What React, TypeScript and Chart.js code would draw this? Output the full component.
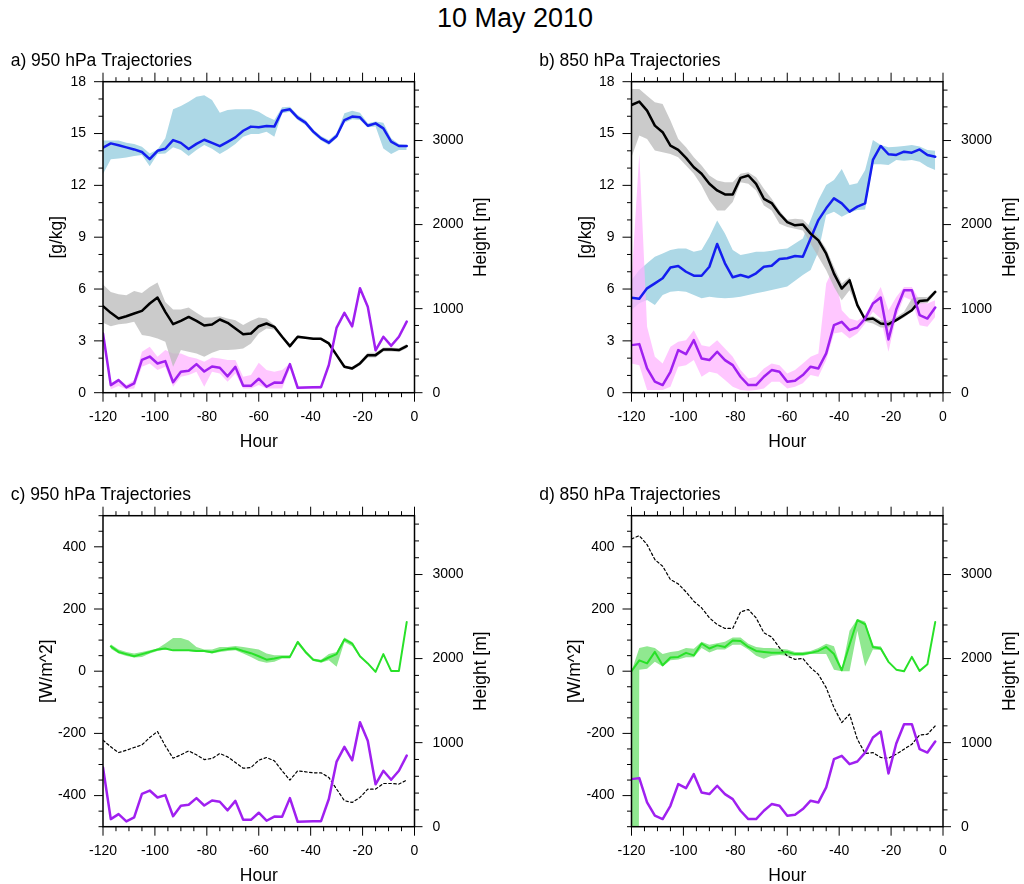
import React, { useEffect, useRef } from "react";
import { Chart, registerables } from "chart.js";

Chart.register(...registerables);

const FONT = '"Liberation Sans", Arial, Helvetica, sans-serif';

// Hours before arrival, 3-hourly trajectory output
const HOURS = [
  -120, -117, -114, -111, -108, -105, -102, -99, -96, -93,
  -90, -87, -84, -81, -78, -75, -72, -69, -66, -63,
  -60, -57, -54, -51, -48, -45, -42, -39, -36, -33,
  -30, -27, -24, -21, -18, -15, -12, -9, -6, -3,
];

// Axis tick labels
const HOUR_TICKS = [-120, -100, -80, -60, -40, -20, 0];
const Q_TICKS = [0, 3, 6, 9, 12, 15, 18];
const FLUX_TICKS = [-400, -200, 0, 200, 400];
const HEIGHT_TICKS = [0, 1000, 2000, 3000];

// ---- 950 hPa trajectories ----
// specific humidity [g/kg]: mean, spread minimum, spread maximum
const Q950 = [14.18, 14.43, 14.32, 14.2, 14.08, 13.93, 13.52, 14.0, 14.12, 14.62, 14.46, 14.1, 14.4, 14.64, 14.46, 14.27, 14.52, 14.78, 15.16, 15.4, 15.36, 15.43, 15.4, 16.32, 16.4, 15.92, 15.63, 15.11, 14.72, 14.47, 14.86, 15.78, 15.98, 15.94, 15.45, 15.59, 15.3, 14.53, 14.28, 14.28];
const Q950_LO = [12.66, 13.51, 13.56, 13.62, 13.7, 13.76, 13.1, 13.81, 13.85, 14.2, 14.05, 13.7, 14.05, 14.33, 14.12, 13.81, 14.08, 14.39, 14.82, 14.97, 14.97, 15.11, 14.82, 16.17, 16.26, 15.78, 15.49, 14.97, 14.59, 14.33, 14.72, 15.63, 15.82, 15.78, 15.36, 15.4, 14.14, 13.81, 14.05, 14.05];
const Q950_HI = [14.59, 14.59, 14.59, 14.47, 14.39, 14.24, 13.85, 14.08, 14.72, 16.4, 16.59, 16.84, 17.13, 17.21, 16.94, 16.21, 16.36, 16.4, 16.4, 16.4, 16.26, 15.98, 15.78, 16.52, 16.55, 16.07, 15.78, 15.24, 14.86, 14.62, 15.01, 16.17, 16.32, 16.21, 15.59, 15.69, 15.63, 14.72, 14.39, 14.33];
// trajectory height [m]
const Z950 = [1029, 950, 882, 910, 942, 973, 1061, 1132, 962, 815, 855, 902, 855, 799, 811, 871, 831, 764, 696, 704, 791, 823, 784, 665, 554, 665, 653, 641, 641, 586, 447, 309, 289, 348, 447, 447, 514, 514, 507, 554];
const Z950_LO = [831, 791, 815, 823, 843, 685, 673, 645, 605, 309, 507, 487, 467, 427, 475, 507, 507, 514, 526, 586, 704, 764, 752, 649, 530, 649, 641, 629, 629, 570, 431, 293, 269, 324, 419, 419, 491, 491, 483, 530];
const Z950_HI = [1286, 1199, 1171, 1159, 1211, 1187, 1258, 1310, 1080, 989, 989, 1013, 950, 894, 894, 910, 882, 863, 804, 855, 894, 882, 804, 681, 578, 681, 665, 653, 653, 601, 463, 324, 309, 372, 475, 475, 538, 538, 530, 578];
// boundary layer height [m]
const BLH950 = [704, 90, 150, 63, 111, 390, 430, 348, 376, 125, 249, 261, 340, 252, 312, 297, 195, 307, 82, 82, 166, 71, 120, 118, 340, 59, 62, 64, 66, 330, 775, 950, 790, 1243, 1022, 505, 665, 558, 665, 846];
const BLH950_LO = [665, 40, 79, 40, 51, 309, 348, 269, 309, 71, 190, 210, 249, 71, 249, 229, 131, 229, 51, 51, 91, 51, 51, 51, 289, 40, 45, 45, 50, 309, 752, 926, 752, 1219, 997, 475, 641, 530, 641, 823];
const BLH950_HI = [744, 111, 170, 91, 150, 487, 546, 427, 507, 467, 467, 427, 408, 368, 419, 408, 388, 388, 190, 210, 356, 269, 249, 269, 348, 71, 80, 80, 85, 348, 791, 973, 803, 1258, 1041, 522, 685, 578, 685, 863];
// surface heat flux [W/m^2]
const FLX950 = [null, 80, 62, 55, 48, 55, 62, 70, 73, 67, 67, 67, 65, 65, 61, 67, 71, 73, 65, 58, 48, 37, 41, 46, 46, 94, 62, 37, 32, 44, 55, 102, 89, 48, 25, -2, 55, 1, 1, 158];
const FLX950_LO = [null, 72, 57, 49, 44, 46, 57, 65, 70, 65, 65, 65, 62, 62, 57, 62, 65, 67, 57, 46, 33, 27, 30, 41, 41, 87, 57, 33, 27, 35, 14, 94, 80, 44, null, null, null, null, null, null];
const FLX950_HI = [null, 87, 70, 62, 57, 62, 67, 73, 89, 107, 107, 99, 78, 70, 70, 78, 78, 81, 78, 74, 70, 57, 51, 51, 51, 99, 67, 41, 37, 55, 62, 108, 94, 51, null, null, null, null, null, null];

// ---- 850 hPa trajectories ----
const Q850 = [5.5, 5.44, 6.04, 6.33, 6.62, 7.25, 7.33, 7.0, 6.77, 6.77, 7.29, 8.61, 7.49, 6.68, 6.81, 6.68, 6.91, 7.29, 7.35, 7.74, 7.78, 7.91, 7.87, 8.93, 9.99, 10.67, 11.25, 10.96, 10.48, 10.77, 10.96, 13.47, 14.28, 13.8, 13.76, 13.95, 13.89, 14.08, 13.76, 13.66];
const Q850_LO = [4.78, 5.17, 5.36, 5.07, 5.65, 5.85, 5.88, 5.85, 5.65, 5.46, 5.56, 5.5, 5.46, 5.5, 5.56, 5.65, 5.75, 5.85, 5.94, 6.04, 6.14, 6.48, 6.81, 7.1, 8.16, 10.29, 10.48, 10.19, 10.42, 10.57, 10.6, 13.22, 13.22, 13.18, 13.47, 13.43, 13.47, 13.37, 13.08, 12.89];
const Q850_HI = [6.52, 7.1, 7.49, 7.87, 8.06, 8.26, 8.35, 8.35, 8.16, 8.26, 9.03, 9.96, 9.22, 8.26, 7.97, 8.06, 8.16, 8.16, 8.22, 8.3, 8.35, 8.64, 8.93, 9.99, 11.15, 12.02, 12.31, 12.95, 12.02, 12.12, 12.89, 14.62, 14.34, 14.2, 14.24, 14.28, 14.34, 14.25, 14.05, 14.01];
const Z850 = [3423, 3463, 3356, 3178, 3099, 2940, 2889, 2794, 2683, 2604, 2485, 2406, 2359, 2359, 2556, 2584, 2485, 2307, 2256, 2129, 2030, 1991, 2002, 1892, 1812, 1654, 1417, 1239, 1338, 1041, 871, 882, 823, 815, 863, 922, 981, 1092, 1100, 1199];
const Z850_LO = [2802, 3059, 3019, 2881, 2861, 2841, 2802, 2703, 2604, 2465, 2287, 2169, 2169, 2268, 2505, 2485, 2406, 2228, 2169, 2010, 1971, 1951, 1931, 1773, 1615, 1456, 1258, 1100, 1219, 1021, 843, 823, 776, 776, 843, 894, 962, 1061, 1068, 1171];
const Z850_HI = [3613, 3613, 3534, 3455, 3435, 3237, 3019, 2920, 2802, 2703, 2584, 2525, 2505, 2505, 2604, 2624, 2564, 2426, 2307, 2169, 2058, 2070, 2062, 1971, 1852, 1713, 1496, 1298, 1377, 1080, 902, 910, 863, 855, 902, 962, 1120, 1140, 1140, 1219];
const BLH850 = [566, 578, 289, 131, 91, 249, 507, 459, 625, 408, 388, 487, 388, 328, 190, 91, 91, 190, 269, 249, 131, 142, 210, 309, 289, 467, 803, 843, 744, 776, 882, 1061, 1132, 633, 990, 1219, 1219, 922, 882, 1013];
const BLH850_LO = [348, 328, 32, 32, 32, 71, 309, 328, 388, 190, 249, 229, 150, 71, 32, 24, 32, 51, 131, 131, 51, 71, 111, 210, 190, 388, 704, 723, 645, 704, 823, 962, 882, 487, 902, 1140, 1100, 803, 784, 902];
const BLH850_HI = [1338, 2841, 784, 427, 348, 546, 605, 625, 744, 566, 546, 625, 526, 427, 269, 170, 190, 289, 348, 328, 229, 269, 348, 427, 467, 1298, 1496, 981, 882, 855, 922, 1100, 1258, 981, 1140, 1258, 1258, 1100, 1061, 1100];
const FLX850 = [0, 35, 25, 62, 19, 44, 46, 59, 51, 89, 73, 83, 78, 99, 97, 78, 65, 62, 59, 59, 62, 55, 55, 59, 65, 78, 55, 3, 85, 164, 151, 78, 73, 30, 5, 0, 46, 1, 22, 158];
const FLX850_LO = [-9999, 5, 8, 30, 15, 35, 38, 45, 45, 75, 60, 70, 70, 85, 85, 70, 50, 40, 50, 52, 50, 50, 50, 55, 55, 55, 5, 0, 0, 130, 15, 70, 68, 25, null, null, null, null, null, null];
const FLX850_HI = [0, 75, 80, 75, 55, 62, 65, 75, 72, 95, 85, 90, 95, 108, 108, 88, 78, 75, 75, 72, 70, 62, 62, 65, 75, 88, 80, 5, 130, 168, 160, 82, 80, 35, null, null, null, null, null, null];

// ---- styling ----
const BLUE = "rgb(20,30,240)";
const PURPLE = "rgb(160,32,240)";
const GREEN = "rgb(40,225,40)";
const LIGHTBLUE = "rgb(173,216,230)";
const PINK = "rgba(255,180,255,0.75)";
const GREY = "rgba(185,185,185,0.75)";
const LIGHTGREEN = "rgb(144,232,144)";

const CANVAS_W = 512;

type Area = { left: number; top: number; right: number; bottom: number };
type Axis = { min: number; max: number; ticks: number[]; minor: number; major: number };
type Panel = {
  key: string;
  x: number;
  y: number;
  h: number;
  area: Area;
  title: string;
  leftTitle: string;
  leftTitleGap: number;
  left: Axis;
  datasets: any[];
};

const HOUR_AXIS: Axis = { min: -120, max: 0, ticks: HOUR_TICKS, minor: 5, major: 20 };
const HEIGHT_AXIS: Axis = { min: 0, max: 3700, ticks: HEIGHT_TICKS, minor: 200, major: 1000 };
const Q_AXIS: Axis = { min: 0, max: 18, ticks: Q_TICKS, minor: 1, major: 3 };
const FLUX_AXIS: Axis = { min: -500, max: 500, ticks: FLUX_TICKS, minor: 50, major: 200 };

const pts = (vals: (number | null)[]) => HOURS.map((h, i) => ({ x: h, y: vals[i] }));

function line(vals: (number | null)[], axis: string, color: string, width: number, order: number, dash: number[] = []) {
  return {
    data: pts(vals),
    yAxisID: axis,
    borderColor: color,
    borderWidth: width,
    borderDash: dash,
    pointRadius: 0,
    fill: false,
    spanGaps: false,
    order,
  };
}

function band(lo: (number | null)[], hi: (number | null)[], axis: string, color: string, order: number) {
  return [
    { data: pts(lo), yAxisID: axis, borderColor: "rgba(0,0,0,0)", borderWidth: 0, pointRadius: 0, fill: false, spanGaps: false, order },
    { data: pts(hi), yAxisID: axis, borderColor: "rgba(0,0,0,0)", borderWidth: 0, pointRadius: 0, fill: "-1", backgroundColor: color, spanGaps: false, order },
  ];
}

// plot areas in canvas coordinates
const TOP_H = 460;
const BOT_Y = 460;
const BOT_H = 424;
const AREA_A: Area = { left: 103, top: 81.7, right: 414.5, bottom: 392.7 };
const AREA_B: Area = { left: 119.5, top: 81.7, right: 431, bottom: 392.7 };
const AREA_C: Area = { left: 103, top: 55.7, right: 414.5, bottom: 366.7 };
const AREA_D: Area = { left: 119.5, top: 55.7, right: 431, bottom: 366.7 };

const PANELS: Panel[] = [
  {
    key: "a", x: 0, y: 0, h: TOP_H, area: AREA_A, title: "a) 950 hPa Trajectories",
    leftTitle: "[g/kg]", leftTitleGap: 45.5, left: Q_AXIS,
    datasets: [
      ...band(Q950_LO, Q950_HI, "y", LIGHTBLUE, 60),
      ...band(BLH950_LO, BLH950_HI, "y2", PINK, 50),
      ...band(Z950_LO, Z950_HI, "y2", GREY, 40),
      line(Q950, "y", BLUE, 2.5, 30),
      line(Z950, "y2", "#000", 2.5, 20),
      line(BLH950, "y2", PURPLE, 2.5, 10),
    ],
  },
  {
    key: "b", x: 512, y: 0, h: TOP_H, area: AREA_B, title: "b) 850 hPa Trajectories",
    leftTitle: "[g/kg]", leftTitleGap: 45.5, left: Q_AXIS,
    datasets: [
      ...band(Q850_LO, Q850_HI, "y", LIGHTBLUE, 60),
      ...band(BLH850_LO, BLH850_HI, "y2", PINK, 50),
      ...band(Z850_LO, Z850_HI, "y2", GREY, 40),
      line(Q850, "y", BLUE, 2.5, 30),
      line(Z850, "y2", "#000", 2.5, 20),
      line(BLH850, "y2", PURPLE, 2.5, 10),
    ],
  },
  {
    key: "c", x: 0, y: BOT_Y, h: BOT_H, area: AREA_C, title: "c) 950 hPa Trajectories",
    leftTitle: "[W/m^2]", leftTitleGap: 56, left: FLUX_AXIS,
    datasets: [
      ...band(FLX950_LO, FLX950_HI, "y", LIGHTGREEN, 45),
      line(FLX950, "y", GREEN, 2, 15),
      line(Z950, "y2", "#000", 1.2, 20, [2.5, 2.5]),
      line(BLH950, "y2", PURPLE, 2.5, 10),
    ],
  },
  {
    key: "d", x: 512, y: BOT_Y, h: BOT_H, area: AREA_D, title: "d) 850 hPa Trajectories",
    leftTitle: "[W/m^2]", leftTitleGap: 56, left: FLUX_AXIS,
    datasets: [
      ...band(FLX850_LO, FLX850_HI, "y", LIGHTGREEN, 45),
      line(FLX850, "y", GREEN, 2, 15),
      line(Z850, "y2", "#000", 1.2, 20, [2.5, 2.5]),
      line(BLH850, "y2", PURPLE, 2.5, 10),
    ],
  },
];

// Frame, outward major/minor tick marks and titles
function decor(p: Panel) {
  return {
    id: "decor",
    afterDraw(chart: any) {
      const { ctx, chartArea: a, scales } = chart;
      const sx = scales.x, sl = scales.y, sr = scales.y2;
      ctx.save();
      ctx.strokeStyle = "#000";
      ctx.lineWidth = 1;
      ctx.beginPath();
      for (let v = HOUR_AXIS.min; v <= HOUR_AXIS.max; v += HOUR_AXIS.minor) {
        const px = sx.getPixelForValue(v);
        const len = v % HOUR_AXIS.major === 0 ? 9 : 4.5;
        ctx.moveTo(px, a.bottom);
        ctx.lineTo(px, a.bottom + len);
        ctx.moveTo(px, a.top);
        ctx.lineTo(px, a.top - len);
      }
      const L = p.left;
      for (let v = L.min; v <= L.max; v += L.minor) {
        const py = sl.getPixelForValue(v);
        const len = v % L.major === 0 ? 9 : 4.5;
        ctx.moveTo(a.left, py);
        ctx.lineTo(a.left - len, py);
      }
      for (let v = HEIGHT_AXIS.min; v <= HEIGHT_AXIS.max; v += HEIGHT_AXIS.minor) {
        const py = sr.getPixelForValue(v);
        const len = v % HEIGHT_AXIS.major === 0 ? 8 : 4.5;
        ctx.moveTo(a.right, py);
        ctx.lineTo(a.right + len, py);
      }
      ctx.stroke();
      ctx.lineWidth = 1.5;
      ctx.strokeRect(a.left, a.top, a.right - a.left, a.bottom - a.top);

      ctx.fillStyle = "#000";
      ctx.font = `17.5px ${FONT}`;
      ctx.textAlign = "left";
      ctx.textBaseline = "alphabetic";
      ctx.fillText(p.title, a.left - 92.3, a.top - 15.7);

      ctx.textAlign = "center";
      ctx.fillText("Hour", (a.left + a.right) / 2, a.bottom + 54);

      const midY = (a.top + a.bottom) / 2;
      ctx.textBaseline = "middle";
      ctx.save();
      ctx.translate(a.left - p.leftTitleGap, midY);
      ctx.rotate(-Math.PI / 2);
      ctx.fillText(p.leftTitle, 0, 0);
      ctx.restore();
      ctx.save();
      ctx.translate(a.right + 67, midY);
      ctx.rotate(-Math.PI / 2);
      ctx.fillText("Height [m]", 0, 0);
      ctx.restore();
      ctx.restore();
    },
  };
}

// Scale whose box exactly fills the margin between the plot area and the canvas edge
function tickScale(axis: Axis, position: string, padding: number, size: number) {
  const horizontal = position === "bottom";
  return {
    type: "linear",
    position,
    min: axis.min,
    max: axis.max,
    afterFit: (s: any) => {
      if (horizontal) s.height = size;
      else s.width = size;
    },
    afterBuildTicks: (s: any) => {
      s.ticks = axis.ticks.map((value) => ({ value }));
    },
    grid: { display: false, drawTicks: false },
    border: { display: false },
    ticks: {
      padding,
      color: "#000",
      font: { family: FONT, size: 14 },
      maxRotation: 0,
      autoSkip: false,
      callback: (v: any) => String(v),
    },
  };
}

function PanelChart({ p }: { p: Panel }) {
  const ref = useRef<HTMLCanvasElement>(null);
  useEffect(() => {
    const a = p.area;
    const chart = new Chart(ref.current as HTMLCanvasElement, {
      type: "line",
      data: { datasets: p.datasets },
      options: {
        animation: false,
        responsive: false,
        events: [],
        layout: { padding: { left: 0, top: a.top, right: 0, bottom: 0 } },
        plugins: { legend: { display: false }, tooltip: { enabled: false }, title: { display: false } },
        elements: {
          point: { radius: 0 },
          line: { tension: 0, borderJoinStyle: "round", borderCapStyle: "round" },
        },
        scales: {
          x: tickScale(HOUR_AXIS, "bottom", 16, p.h - a.bottom),
          y: tickScale(p.left, "left", 17, a.left),
          y2: tickScale(HEIGHT_AXIS, "right", 18, CANVAS_W - a.right),
        },
      } as any,
      plugins: [decor(p)],
    });
    return () => chart.destroy();
  }, [p]);
  return (
    <canvas
      ref={ref}
      width={CANVAS_W}
      height={p.h}
      style={{ position: "absolute", left: p.x, top: p.y, width: CANVAS_W, height: p.h }}
    />
  );
}

export default function App() {
  return (
    <div
      style={{
        position: "fixed",
        left: 0,
        top: 0,
        width: 1024,
        height: 884,
        background: "#fff",
        overflow: "hidden",
      }}
    >
      <div
        style={{
          position: "absolute",
          left: 6,
          top: 5.4,
          width: 1018,
          textAlign: "center",
          fontFamily: FONT,
          fontSize: 27,
          lineHeight: "27px",
          color: "#000",
        }}
      >
        10 May 2010
      </div>
      {PANELS.map((p) => (
        <PanelChart key={p.key} p={p} />
      ))}
    </div>
  );
}
